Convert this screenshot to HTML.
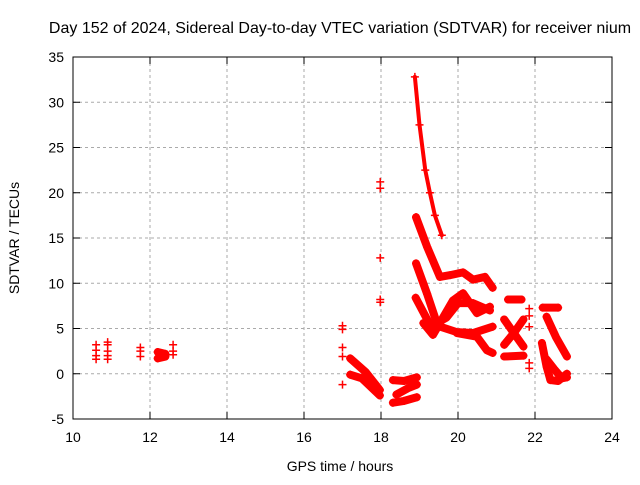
<!DOCTYPE html>
<html><head><meta charset="utf-8"><style>
body{margin:0;background:#fff}
svg text{font-family:"Liberation Sans",sans-serif;fill:#000}
</style></head><body>
<svg id="c" width="640" height="480">
<text x="340" y="33" font-size="16" text-anchor="middle">Day 152 of 2024, Sidereal Day-to-day VTEC variation (SDTVAR) for receiver nium</text>
<text x="340" y="471" font-size="14" text-anchor="middle">GPS time / hours</text>
<text transform="translate(19,238) rotate(-90)" font-size="14" text-anchor="middle">SDTVAR / TECUs</text>
<g id="grid"></g><g id="marks"></g>
<rect x="73" y="57" width="539" height="362" fill="none" stroke="#000"/>
</svg>
<script>
const xTicks=[10,12,14,16,18,20,22,24];
const yTicks=[-5,0,5,10,15,20,25,30,35];
const tracks=[
[[18.88,32.8],[19.0,27.5],[19.15,22.5],[19.27,20],[19.4,17.5],[19.58,15.3]],
[[18.91,17.3],[19.2,14],[19.53,10.7],[19.8,10.9],[20.13,11.2],[20.39,10.4],[20.7,10.7],[20.9,9.5]],
[[18.91,12.2],[19.2,8.8],[19.45,5.6],[19.7,6.2],[20.0,7.8],[20.39,7.8],[20.83,7.0]],
[[18.9,8.4],[19.25,5.6],[19.97,4.6],[20.39,4.5],[20.9,5.2]],
[[19.1,5.6],[19.35,4.3],[19.87,8.1],[20.13,8.9],[20.49,6.7],[20.83,7.4]],
[[19.97,4.5],[20.49,4.1],[20.75,2.6],[20.9,2.3]],
[[21.3,8.2],[21.65,8.2]],
[[21.2,1.9],[21.7,2.0]],
[[21.2,6.0],[21.45,4.5],[21.7,3.0]],
[[21.2,3.2],[21.45,4.5],[21.7,6.0]],
[[22.2,7.3],[22.6,7.3]],
[[22.3,6.3],[22.55,4.0],[22.83,1.9]],
[[22.18,3.4],[22.3,0.8],[22.4,-0.7],[22.6,-0.8],[22.83,0]],
[[22.3,1.6],[22.5,0.5],[22.7,-0.5],[22.83,-0.4]],
[[17.2,1.7],[17.6,0.2],[17.97,-1.8]],
[[17.2,-0.1],[17.5,-0.5],[17.97,-2.4]],
[[18.31,-0.7],[18.6,-0.8],[18.93,-0.4]],
[[18.31,-3.2],[18.6,-3.0],[18.93,-2.6]],
[[18.4,-2.3],[18.7,-1.6],[18.93,-1.2]],
[[12.2,2.4],[12.4,2.2]],[[12.2,1.7],[12.4,1.9]]
];
const pointsH=[10.6,10.6,10.6,10.6,10.9,10.9,10.9,10.9,10.9,11.75,11.75,11.75,12.6,12.6,12.6,17,17,17,17,17,17.98,17.98,17.98,17.98,17.98,21.85,21.85,21.85,21.85,21.85];
const pointsV=[3.2,2.6,2.0,1.6,3.5,3.2,2.5,2.0,1.6,2.9,2.5,1.9,3.2,2.5,2.1,5.3,4.9,2.9,1.9,-1.2,21.2,20.5,12.8,8.2,7.9,7.2,6.4,5.2,1.2,0.6];
const X=h=>73+(h-10)*38.5, Y=v=>419-(v+5)*9.05;
const NS='http://www.w3.org/2000/svg';
const g=document.getElementById('grid'), m=document.getElementById('marks');
function mk(t,a,p){const e=document.createElementNS(NS,t);for(const k in a)e.setAttribute(k,a[k]);p.appendChild(e);return e;}
xTicks.forEach(t=>{
 if(t>10&&t<24){const l=mk('line',{x1:X(t),x2:X(t),y1:57,y2:419,stroke:'#aaa','stroke-dasharray':'3,3'},g);
 
 }
 mk('line',{x1:X(t),x2:X(t),y1:419,y2:412,stroke:'#000'},g);
 mk('line',{x1:X(t),x2:X(t),y1:57,y2:64,stroke:'#000'},g);
 const tx=mk('text',{x:X(t),y:442,'font-size':14,'text-anchor':'middle'},g);tx.textContent=t;
 
 
});
yTicks.forEach(t=>{
 if(t>-5&&t<35){const l=mk('line',{x1:73,x2:612,y1:Y(t),y2:Y(t),stroke:'#aaa','stroke-dasharray':'3,3'},g);
 
 }
 mk('line',{x1:73,x2:80,y1:Y(t),y2:Y(t),stroke:'#000'},g);
 mk('line',{x1:612,x2:605,y1:Y(t),y2:Y(t),stroke:'#000'},g);
 const tx=mk('text',{x:64,y:Y(t)+5,'font-size':14,'text-anchor':'end'},g);tx.textContent=t;
 
 
});
function plus(h,v){const x=X(h),y=Y(v);
 const p=mk('path',{d:`M${x-4} ${y}H${x+4}M${x} ${y-4}V${y+4}`,stroke:'#f00','stroke-width':1.5},m);
 
 }
tracks.forEach((tr,i)=>{
 const pl=mk('polyline',{points:tr.map(p=>X(p[0])+','+Y(p[1])).join(' '),fill:'none',stroke:'#f00','stroke-width':i===0?4:8,'stroke-linejoin':'round','stroke-linecap':'round'},m);
 
 
 tr.forEach(p=>plus(p[0],p[1]));
});
pointsH.forEach((h,i)=>plus(h,pointsV[i]));
</script>
</body></html>
